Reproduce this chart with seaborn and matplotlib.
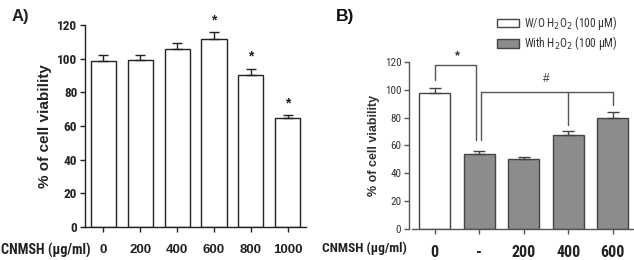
import matplotlib
matplotlib.use("Agg")
import matplotlib.pyplot as plt
from matplotlib import font_manager as fm
import seaborn as sns
import pandas as pd
from matplotlib.patches import Patch

sns.set_theme(style="ticks")
plt.rcParams['font.family'] = ['Liberation Sans', 'DejaVu Sans']

# ---- data ----
a_doses = ["0", "200", "400", "600", "800", "1000"]
a_values = [98.3, 99.4, 106.0, 111.9, 90.1, 64.6]
a_errors = [3.7, 2.6, 3.5, 3.8, 3.8, 1.8]
a_stars = ["", "", "", "*", "*", "*"]

b_doses = ["0", "-", "200", "400", "600"]
b_values = [98.0, 54.0, 50.0, 67.5, 80.0]
b_errors = [3.0, 2.0, 1.5, 3.0, 4.0]
b_groups = ["W/O H$_2$O$_2$ (100 \u03bcM)", "With H$_2$O$_2$ (100 \u03bcM)",
            "With H$_2$O$_2$ (100 \u03bcM)", "With H$_2$O$_2$ (100 \u03bcM)",
            "With H$_2$O$_2$ (100 \u03bcM)"]
group_colors = ["white", "#8c8c8c"]

# significance brackets (data values)
star_bracket_top = 118
star_leg_bottoms = [107, 64]
hash_bracket_top = 98.5
hash_leg_bottoms = [64, 75, 89]


def find_narrow():
    for name in ['Liberation Sans Narrow', 'DejaVu Sans Condensed', 'Roboto Condensed',
                 'Open Sans Condensed', 'Noto Sans Condensed']:
        try:
            fm.findfont(fm.FontProperties(family=name), fallback_to_default=False)
            return name, True
        except Exception:
            pass
    return 'Liberation Sans', False


narrow_name, has_narrow = find_narrow()
narrow = [narrow_name, 'Liberation Sans', 'DejaVu Sans']
k = 1.0 if has_narrow else 0.85  # shrink factor when no condensed face exists

fig = plt.figure(figsize=(6.34, 2.6), dpi=100)
fig.patch.set_facecolor("white")

# ---------------- Panel A ----------------
axA = fig.add_axes([0.134, 0.127, 0.349, 0.777])
dfA = pd.DataFrame({"dose": a_doses, "val": a_values})
sns.barplot(data=dfA, x="dose", y="val", order=a_doses, color="white",
            edgecolor="#222222", linewidth=1.0, width=0.68, ax=axA, errorbar=None)
for p in axA.patches:
    p.set_facecolor("white")
axA.errorbar(range(len(a_doses)), a_values, yerr=[[0]*len(a_errors), a_errors],
             fmt="none", ecolor="#222222", elinewidth=1.0, capsize=3.5, capthick=1.0)
for i, (v, e, s) in enumerate(zip(a_values, a_errors, a_stars)):
    if s:
        axA.text(i, v + e + 3, s, ha="center", va="bottom", fontsize=10,
                 fontweight="bold", color="#222222", clip_on=False)
axA.set_xlim(-0.5, 5.5)
axA.set_ylim(0, 120)
axA.set_yticks([0, 20, 40, 60, 80, 100, 120])
axA.set_ylabel("% of cell viability", fontsize=11, fontweight="bold", color="#222222", labelpad=4)
axA.set_xlabel("")
axA.set_xticks(range(len(a_doses)))
axA.set_xticklabels(a_doses, fontsize=9.5, fontweight="bold", color="#222222")
for lab in axA.get_yticklabels():
    lab.set_fontfamily(narrow)
    lab.set_fontsize(9.5 * k)
    lab.set_fontweight("bold")
    lab.set_color("#222222")
axA.tick_params(axis="both", length=3.5, width=1.0, color="#222222", pad=2)
axA.tick_params(axis="x", pad=9)
for sp in ["top", "right"]:
    axA.spines[sp].set_visible(False)
for sp in ["left", "bottom"]:
    axA.spines[sp].set_color("#222222")
    axA.spines[sp].set_linewidth(1.0)
fig.text(1/634, 1 - 250/260, "CNMSH (\u03bcg/ml)", ha="left", va="center",
         fontsize=10.2 if has_narrow else 8.6, fontweight="bold", color="#222222",
         fontfamily=narrow)
fig.text(12/634, 1 - 16/260, "A)", ha="left", va="center", fontsize=12,
         fontweight="bold", color="#222222")

# ---------------- Panel B ----------------
axB = fig.add_axes([0.645, 0.119, 0.353, 0.643])
dfB = pd.DataFrame({"dose": b_doses, "val": b_values, "grp": b_groups})
hue_order = [b_groups[0], b_groups[1]]
sns.barplot(data=dfB, x="dose", y="val", hue="grp", order=b_doses, hue_order=hue_order,
            palette=dict(zip(hue_order, group_colors)), dodge=False, width=0.7,
            edgecolor="#444444", linewidth=1.0, ax=axB, errorbar=None, legend=False)
axB.errorbar(range(len(b_doses)), b_values, yerr=[[0]*len(b_errors), b_errors],
             fmt="none", ecolor="#444444", elinewidth=1.0, capsize=4, capthick=1.0)
lc = "#555555"
# star bracket between bar 0 and bar 1
axB.plot([0, 0, 0.93, 0.93], [star_leg_bottoms[0], star_bracket_top, star_bracket_top,
                               star_leg_bottoms[1]], color=lc, lw=1.0, clip_on=False)
axB.text(0.5, star_bracket_top + 2, "*", ha="center", va="bottom", fontsize=9,
         fontweight="bold", color="#333333")
# hash bracket from bar 1 to bars 3, 4
axB.plot([1.03, 1.03], [hash_leg_bottoms[0], hash_bracket_top], color=lc, lw=1.0)
axB.plot([1.03, 4], [hash_bracket_top, hash_bracket_top], color=lc, lw=1.0)
axB.plot([3, 3], [hash_leg_bottoms[1], hash_bracket_top], color=lc, lw=1.0)
axB.plot([4, 4], [hash_leg_bottoms[2], hash_bracket_top], color=lc, lw=1.0)
axB.text(2.5, hash_bracket_top + 5, "#", ha="center", va="bottom", fontsize=8.5,
         color="#333333")
axB.set_xlim(-0.58, 4.45)
axB.set_ylim(0, 120)
axB.set_yticks([0, 20, 40, 60, 80, 100, 120])
axB.set_ylabel("% of cell viability", fontsize=9, fontweight="bold", color="#333333", labelpad=3)
axB.set_xlabel("")
axB.set_xticks(range(len(b_doses)))
axB.set_xticklabels(b_doses, fontsize=11.5 * k, fontweight="bold", color="#222222",
                    fontfamily=narrow)
for lab in axB.get_yticklabels():
    lab.set_fontfamily(narrow)
    lab.set_fontsize(8 * k)
    lab.set_color("#333333")
axB.tick_params(axis="both", length=3.5, width=1.0, color="#555555", pad=2)
axB.tick_params(axis="x", pad=8)
for sp in ["top", "right"]:
    axB.spines[sp].set_visible(False)
for sp in ["left", "bottom"]:
    axB.spines[sp].set_color("#555555")
    axB.spines[sp].set_linewidth(1.0)
axB.spines["bottom"].set_bounds(-0.5, 4.45)
fig.text(322/634, 1 - 248/260, "CNMSH (\u03bcg/ml)", ha="left", va="center",
         fontsize=9.6 if has_narrow else 8.3, fontweight="bold", color="#222222",
         fontfamily=narrow)
fig.text(336/634, 1 - 17/260, "B)", ha="left", va="center", fontsize=12.5,
         fontweight="bold", color="#111111")

handles = [Patch(facecolor=c, edgecolor="#444444", linewidth=1.0) for c in group_colors]
leg = fig.legend(handles, hue_order, loc="upper left", bbox_to_anchor=(497/634, 1 - 14/260),
                 frameon=False, fontsize=8.3, handlelength=1.9, handleheight=0.8,
                 handletextpad=0.4, labelspacing=0.2, borderaxespad=0, borderpad=0)
for t in leg.get_texts():
    t.set_color("#333333")
    t.set_fontfamily(narrow)

fig.savefig("out.png", dpi=100, facecolor="white")
